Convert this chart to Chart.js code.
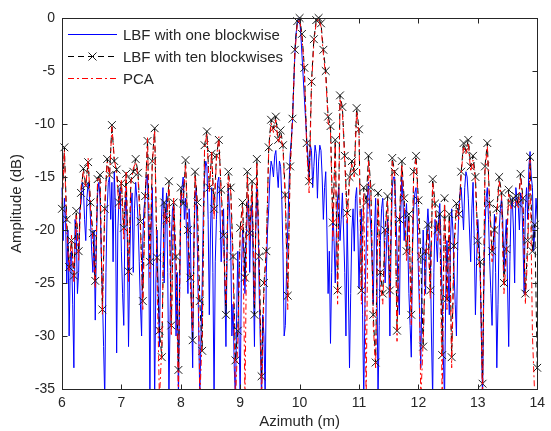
<!DOCTYPE html>
<html>
<head>
<meta charset="utf-8">
<script src="https://cdn.jsdelivr.net/npm/chart.js@4.4.1/dist/chart.umd.min.js"></script>
<style>
  html, body { margin: 0; padding: 0; background: #fff; }
  #wrap { width: 551px; height: 431px; }
</style>
</head>
<body>
<div id="wrap"><canvas id="ampChart" width="551" height="431"></canvas></div>
<script>
// sampling grids along azimuth (m)
const azStart = 6;
const stepOne = 0.02;   // one blockwise curve is sampled finer
const stepTen = 0.04;   // ten blockwises and PCA

const xTicks = [6, 7, 8, 9, 10, 11, 12, 13, 14];
const yTicks = [0, -5, -10, -15, -20, -25, -30, -35];

const seriesNames = ['LBF with one blockwise', 'LBF with ten blockwises', 'PCA'];

// amplitude (dB), one value per grid step
const lbfOne = [
  -16, -21, -17, -19, -25, -20, -30, -23, -22, -27, -33, -19, -20, -26, -24, -18, -17.5, -15.5, -16, -19,
  -21, -17, -15.5, -16.5, -19, -22, -24, -20, -28.5, -21, -16.5, -15.5, -17, -22, -26, -31, -36, -24, -18, -15.5,
  -15, -19, -15.5, -23, -14.5, -18, -31.6, -20, -17, -16, -22, -26, -29, -19, -16, -21, -31, -23, -18, -16.5,
  -24, -18, -15.5, -17, -19, -23, -27, -30, -21, -18, -17, -15, -14.8, -22, -36, -20, -16, -23, -36, -25,
  -20, -26, -31, -22, -18, -16, -25, -19, -16.5, -24, -36, -28, -21, -18, -17.5, -22, -30, -24, -36, -26,
  -18, -16, -15, -19, -17, -21, -26, -18, -20, -27, -33, -21, -17, -16, -22, -29, -36, -30, -25, -18,
  -15, -13.5, -14, -19, -28, -20, -16, -24, -36, -23, -19, -15.5, -15, -18, -23, -20, -18, -25, -31, -22,
  -16, -18, -21, -30, -27, -33, -36, -28, -22, -30, -36, -24, -20, -22, -26, -21, -18, -17, -24, -19,
  -17.5, -24, -31, -20, -16, -19, -26, -31, -36, -28, -30, -36, -24, -20, -18, -15, -13.5, -14, -15, -13,
  -12.5, -14.5, -16, -13.5, -14, -17, -22, -30, -29, -24, -20, -16, -13, -11.5, -9.8, -6.5, -3.5, -1.5, -0.5, 0,
  0, -1.5, -3.5, -5.5, -7.5, -9.5, -11.5, -13, -15, -12, -12.5, -16, -14, -12, -12.8, -17, -13.5, -12, -12.5, -15,
  -19, -16, -14.5, -20, -26, -22, -30.7, -24, -18, -21, -25, -20, -17, -16, -21, -19, -16.5, -20, -24, -30,
  -19, -25, -33, -26, -20, -18, -22, -17, -16, -20, -25.5, -21, -18, -28, -36, -27, -22, -17, -15.5, -18,
  -20, -23, -27, -20, -17, -24, -36, -29, -21, -18, -17, -20, -25, -22, -19, -23, -30, -21, -16, -15,
  -15, -18, -22, -26, -28, -19, -15, -17, -21, -19, -17.5, -21, -26, -29, -32, -22, -18, -16.5, -16, -19,
  -24, -28, -33, -25, -20, -23, -26, -20, -18, -20, -22, -30, -36, -24, -19, -21, -23, -19, -17.5, -21,
  -27, -32, -36, -26, -21, -24, -28, -21, -18, -20, -24, -27, -30, -22, -18, -16.5, -16, -18, -20, -16,
  -14.5, -15, -17, -20, -23, -18, -15.5, -21, -28, -23, -19, -21, -24, -30, -36, -26, -20, -17, -16, -19,
  -23, -26, -29, -22, -18.5, -24, -33, -27, -20, -18, -17, -19, -24, -21, -19, -25, -31, -23, -18, -17,
  -20, -25, -16, -17, -17.5, -20, -16.5, -17, -21, -26, -18, -16, -19, -14, -12.6, -15, -16, -22, -20, -17,
  -19
];

const lbfTen = [
  -18, -12.2, -19, -23.5, -21, -24.3, -18.2, -22, -16.5, -14.2,
  -15.8, -13.6, -17.4, -20.3, -24.8, -15.2, -14.8, -27.5, -18, -13.3,
  -14.8, -10.1, -13.5, -14.3, -17.4, -15.6, -19.8, -14.7, -23.9, -15.3,
  -14.5, -13.3, -14.6, -19.2, -26.7, -16.8, -11.6, -23, -13.5, -10.4,
  -22.6, -29.5, -32, -17.4, -19, -15.4, -29, -17.4, -22.5, -33.2,
  -16, -17.5, -13.4, -20, -24.5, -30.4, -14.5, -17.4, -26.7, -31.4,
  -12, -10.7, -16, -12.8, -18, -13, -11.5, -16.2, -20.5, -28,
  -14.5, -16, -22.5, -32.3, -29.5, -19.8, -17.4, -24.5, -14.5, -20.3,
  -15.4, -28, -13.3, -22.5, -33.8, -25, -22, -12.2, -9.6, -10.4,
  -9.3, -11.5, -10.6, -12, -16.7, -26.2, -14, -9.5, -3, -0.3,
  0, -1.5, -4.7, -11.8, -15.4, -6, -2, -0.2, 0, -0.5,
  -3, -5, -9.3, -10.2, -19.3, -11.5, -25.7, -7.3, -8.4, -13,
  -18.4, -15, -13.5, -14.5, -8.5, -10.5, -25.7, -16, -17.4, -13,
  -16, -28, -32.5, -16.5, -24, -26, -20, -16.8, -25.7, -13.2,
  -14.5, -29.5, -19, -13.5, -17, -22, -18.5, -28, -14.5, -13,
  -17.2, -22.5, -31, -22, -19.5, -25.7, -15.2, -17.5, -20, -18.5,
  -31.8, -17, -26.5, -18.5, -32, -21.5, -17.5, -18.5, -14.5, -11.8,
  -12.5, -11.5, -14, -13, -15, -21, -23, -34.5, -14, -11.8,
  -17.5, -22, -20, -18, -15, -16.5, -25, -21.8, -16.2, -17.5,
  -17, -16.8, -17.5, -14.7, -17, -26, -21, -13.1, -22, -19.5,
  -33
];

const pca = [
  -17.5, -12.5, -20, -24, -20.5, -25, -18.5, -23, -16, -14.5,
  -16, -13.2, -18, -21, -25.5, -15, -15.3, -28, -17.5, -13.6,
  -15, -10.2, -13.2, -14.8, -18, -15.2, -21, -14.4, -25, -15.6,
  -14.2, -13.6, -15, -20, -27.5, -17.2, -11.3, -24.5, -13.8, -10.6,
  -24, -36, -31, -18, -19.5, -15.8, -30, -17, -23.5, -36,
  -16.4, -17, -13.8, -21, -25, -29.5, -14.8, -18, -36, -30,
  -12.3, -10.9, -16.5, -12.5, -19, -13.3, -11.2, -16.8, -21.5, -27,
  -14.8, -16.4, -23.5, -36, -30.5, -20.5, -17.8, -36, -14.8, -21,
  -15.8, -27, -13.6, -23.5, -36, -26, -21.5, -12.6, -9.9, -10.8,
  -9.6, -11.8, -11, -12.4, -17.5, -27.5, -14.5, -9.8, -3.4, -0.6,
  -0.1, -1.8, -5, -12.4, -16.5, -6.5, -2.3, -0.4, -0.1, -0.8,
  -3.4, -5.5, -9.8, -10.6, -21, -11.8, -27, -7.6, -8.8, -13.5,
  -19.5, -15.5, -13.8, -15, -8.8, -10.9, -27, -16.5, -36, -13.4,
  -16.5, -29, -33, -17, -25, -27, -20.5, -17.2, -26.5, -13.5,
  -14.8, -30.5, -19.5, -13.8, -17.5, -23, -19, -29, -14.8, -13.3,
  -17.8, -36, -30.5, -22.5, -20, -26.5, -15.5, -18, -21, -19,
  -36, -17.5, -27.5, -19, -33, -22, -18, -19, -14.8, -12.1,
  -12.8, -11.8, -14.5, -13.4, -15.5, -22, -24, -36, -14.5, -12.1,
  -18, -23, -20.5, -18.5, -15.4, -17, -26, -22.5, -16.6, -18,
  -17.5, -17.2, -18, -15, -17.5, -27, -22, -13.4, -30, -36,
  -36
];

function toPoints(values, step) {
    return values.map((v, i) => ({ x: +(azStart + i * step).toFixed(2), y: v }));
}

const axisColor = '#262626';
const fontFamily = '"Liberation Sans", Arial, sans-serif';

// box round the axes with inward tick marks on all four sides
const frameTicks = {
    id: 'frameTicks',
    afterDatasetsDraw(chart) {
        const { ctx, chartArea: a, scales } = chart;
        const L = Math.round(a.left) + 0.5, R = Math.round(a.right) + 0.5;
        const T = Math.round(a.top) + 0.5, B = Math.round(a.bottom) + 0.5;
        ctx.save();
        ctx.strokeStyle = axisColor;
        ctx.lineWidth = 1;
        ctx.beginPath();
        xTicks.forEach(v => {
            const px = Math.round(scales.x.getPixelForValue(v)) + 0.5;
            ctx.moveTo(px, B); ctx.lineTo(px, B - 5);
            ctx.moveTo(px, T); ctx.lineTo(px, T + 5);
        });
        yTicks.forEach(v => {
            const py = Math.round(scales.y.getPixelForValue(v)) + 0.5;
            ctx.moveTo(L, py); ctx.lineTo(L + 5, py);
            ctx.moveTo(R, py); ctx.lineTo(R - 5, py);
        });
        ctx.stroke();
        ctx.strokeRect(L, T, R - L, B - T);
        ctx.restore();
    }
};

// matlab style legend inside the top-left corner
const insideLegend = {
    id: 'insideLegend',
    afterDraw(chart) {
        const { ctx, chartArea: a } = chart;
        ctx.save();
        ctx.fillStyle = '#fff';
        ctx.fillRect(a.left + 1, a.top + 1, 226, 70);

        const rows = [
            { color: '#0000ff', dash: [], marker: false },
            { color: '#000000', dash: [6, 4], marker: true },
            { color: '#ff0000', dash: [6, 3, 2, 3], marker: false }
        ];
        rows.forEach((r, i) => {
            const cy = a.top + 16.5 + i * 22;
            ctx.strokeStyle = r.color;
            ctx.lineWidth = 1;
            ctx.setLineDash(r.dash);
            ctx.beginPath();
            ctx.moveTo(a.left + 6, cy);
            ctx.lineTo(a.left + 55, cy);
            ctx.stroke();
            ctx.setLineDash([]);
            if (r.marker) {
                const cx = a.left + 30.5;
                ctx.strokeStyle = '#1a1a1a';
                ctx.beginPath();
                ctx.moveTo(cx - 4, cy - 4); ctx.lineTo(cx + 4, cy + 4);
                ctx.moveTo(cx - 4, cy + 4); ctx.lineTo(cx + 4, cy - 4);
                ctx.stroke();
            }
            ctx.fillStyle = axisColor;
            ctx.font = '15px ' + fontFamily;
            ctx.textBaseline = 'middle';
            ctx.fillText(seriesNames[i], a.left + 61, cy + 1);
        });
        ctx.restore();
    }
};

const ctx = document.getElementById('ampChart').getContext('2d');

const ampChart = new Chart(ctx, {
    type: 'line',
    data: {
        datasets: [
            {
                label: seriesNames[0],
                data: toPoints(lbfOne, stepOne),
                borderColor: '#0000ff',
                borderWidth: 1,
                pointRadius: 0,
                order: 3
            },
            {
                label: seriesNames[1],
                data: toPoints(lbfTen, stepTen),
                borderColor: '#000000',
                borderWidth: 1,
                borderDash: [6, 4],
                pointStyle: 'crossRot',
                pointRadius: 5.5,
                pointBorderColor: '#1a1a1a',
                pointBorderWidth: 1,
                order: 2
            },
            {
                label: seriesNames[2],
                data: toPoints(pca, stepTen),
                borderColor: '#ff0000',
                borderWidth: 1,
                borderDash: [6, 3, 2, 3],
                pointRadius: 0,
                order: 1
            }
        ]
    },
    options: {
        responsive: false,
        animation: false,
        devicePixelRatio: 1,
        layout: { padding: { top: 18, right: 9, bottom: 0, left: 0 } },
        elements: { line: { tension: 0, fill: false } },
        datasets: { line: { clip: { left: 6, top: 8, right: 6, bottom: 0 } } },
        scales: {
            x: {
                type: 'linear',
                min: 6,
                max: 14,
                afterBuildTicks: s => { s.ticks = xTicks.map(v => ({ value: v })); },
                afterFit: s => { s.height = 42; },
                grid: { display: false, drawTicks: false },
                border: { display: false },
                ticks: { color: axisColor, padding: 6, maxRotation: 0, font: { family: fontFamily, size: 14 } },
                title: {
                    display: true,
                    text: 'Azimuth (m)',
                    color: axisColor,
                    padding: { top: 0, bottom: 0 },
                    font: { family: fontFamily, size: 15 }
                }
            },
            y: {
                type: 'linear',
                min: -35,
                max: 0,
                afterBuildTicks: s => { s.ticks = yTicks.map(v => ({ value: v })); },
                afterFit: s => { s.width = 62; },
                grid: { display: false, drawTicks: false },
                border: { display: false },
                ticks: { color: axisColor, padding: 7, font: { family: fontFamily, size: 14 } },
                title: {
                    display: true,
                    text: 'Amplitude (dB)',
                    color: axisColor,
                    padding: { top: 8, bottom: 0 },
                    font: { family: fontFamily, size: 15 }
                }
            }
        },
        plugins: {
            legend: { display: false },
            tooltip: { enabled: false }
        }
    },
    plugins: [frameTicks, insideLegend]
});
</script>
</body>
</html>
